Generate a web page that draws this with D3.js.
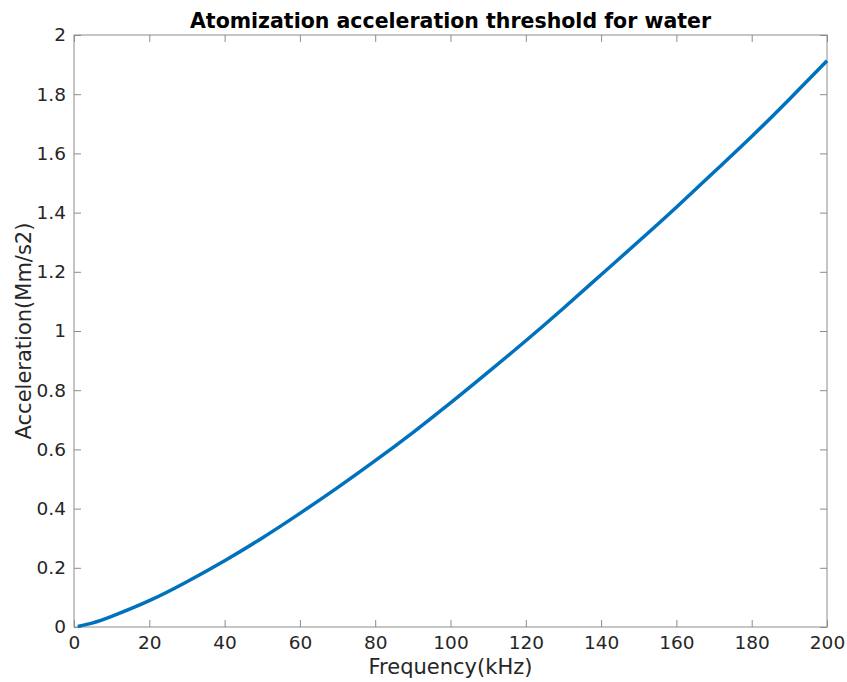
<!DOCTYPE html>
<html>
<head>
<meta charset="utf-8">
<script src="https://cdn.jsdelivr.net/npm/d3@7"></script>
<style>
  body { margin: 0; background: #fff; }
  text { font-family: "DejaVu Sans", sans-serif; }
</style>
</head>
<body>
<svg id="chart"></svg>
<script>
// values
const freqKHz = [1, 5, 10, 20, 30, 40, 50, 60, 70, 80, 90, 100, 110, 120, 130, 140, 150, 160, 170, 180, 190, 200];
const accel = [0.002, 0.014, 0.036, 0.089, 0.153, 0.224, 0.301, 0.384, 0.471, 0.562, 0.657, 0.757, 0.861, 0.967, 1.077, 1.19, 1.303, 1.418, 1.537, 1.657, 1.783, 1.913];
const xTicks = [0, 20, 40, 60, 80, 100, 120, 140, 160, 180, 200];
const yTicks = [0, 0.2, 0.4, 0.6, 0.8, 1, 1.2, 1.4, 1.6, 1.8, 2];

const width = 847, height = 682;
const plotL = 74, plotR = 827, plotT = 35, plotB = 627;

const svg = d3.select('#chart')
  .attr('width', width)
  .attr('height', height);

const x = d3.scaleLinear().domain([0, 200]).range([plotL, plotR]);
const y = d3.scaleLinear().domain([0, 2]).range([plotB, plotT]);

const axisColor = '#8c8c8c';
const textColor = '#262626';

function styleAxis(g, showText) {
  g.select('.domain').remove();
  g.selectAll('.tick line').attr('stroke', axisColor);
  g.selectAll('.tick text')
    .attr('fill', textColor)
    .style('font-size', '18.5px')
    .style('display', showText ? null : 'none');
}

// bottom / top
svg.append('g')
  .attr('transform', `translate(0,${plotB})`)
  .call(d3.axisBottom(x).tickValues(xTicks).tickSize(-7).tickPadding(9).tickFormat(d3.format('d')))
  .call(g => styleAxis(g, true));
svg.append('g')
  .attr('transform', `translate(0,${plotT})`)
  .call(d3.axisTop(x).tickValues(xTicks).tickSize(-7))
  .call(g => styleAxis(g, false));

// left / right
svg.append('g')
  .attr('transform', `translate(${plotL},0)`)
  .call(d3.axisLeft(y).tickValues(yTicks).tickSize(-7).tickPadding(8).tickFormat(d => d3.format('~g')(d)))
  .call(g => styleAxis(g, true));
svg.append('g')
  .attr('transform', `translate(${plotR},0)`)
  .call(d3.axisRight(y).tickValues(yTicks).tickSize(-7))
  .call(g => styleAxis(g, false));

// box
svg.append('rect')
  .attr('x', plotL).attr('y', plotT)
  .attr('width', plotR - plotL).attr('height', plotB - plotT)
  .attr('fill', 'none')
  .attr('stroke', axisColor)
  .attr('stroke-width', 1);

const line = d3.line()
  .x((d, i) => x(freqKHz[i]))
  .y(d => y(d))
  .curve(d3.curveNatural);

svg.append('path')
  .datum(accel)
  .attr('d', line)
  .attr('fill', 'none')
  .attr('stroke', '#0072BD')
  .attr('stroke-width', 3.5);

svg.append('text')
  .attr('x', (plotL + plotR) / 2)
  .attr('y', 28)
  .attr('text-anchor', 'middle')
  .style('font-size', '20.5px')
  .style('font-weight', 'bold')
  .attr('fill', '#000')
  .text('Atomization acceleration threshold for water');

svg.append('text')
  .attr('x', (plotL + plotR) / 2)
  .attr('y', 674)
  .attr('text-anchor', 'middle')
  .style('font-size', '21px')
  .attr('fill', textColor)
  .text('Frequency(kHz)');

svg.append('text')
  .attr('transform', `translate(31,${(plotT + plotB) / 2}) rotate(-90)`)
  .attr('text-anchor', 'middle')
  .style('font-size', '21px')
  .attr('fill', textColor)
  .text('Acceleration(Mm/s2)');
</script>
</body>
</html>
